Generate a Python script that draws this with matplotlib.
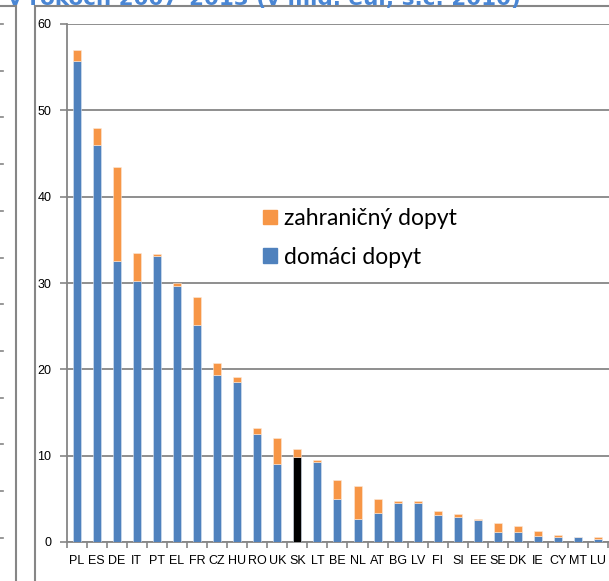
import matplotlib
matplotlib.use("Agg")
import matplotlib.pyplot as plt
from matplotlib.lines import Line2D
from matplotlib.patches import Patch
import numpy as np

# countries, sorted by total contribution
countries = ['PL', 'ES', 'DE', 'IT', 'PT', 'EL', 'FR', 'CZ', 'HU', 'RO', 'UK', 'SK', 'LT', 'BE',
             'NL', 'AT', 'BG', 'LV', 'FI', 'SI', 'EE', 'SE', 'DK', 'IE', 'CY', 'MT', 'LU']
domestic = [55.7, 46.0, 32.6, 30.2, 33.1, 29.7, 25.1, 19.4, 18.5, 12.5, 9.0, 9.85, 9.3, 5.0,
            2.7, 3.4, 4.5, 4.5, 3.1, 2.9, 2.55, 1.15, 1.15, 0.75, 0.6, 0.55, 0.3]
foreign = [1.3, 2.0, 10.8, 3.25, 0.3, 0.3, 3.25, 1.3, 0.6, 0.7, 3.1, 0.9, 0.2, 2.2,
           3.8, 1.6, 0.3, 0.2, 0.5, 0.3, 0.12, 1.05, 0.65, 0.55, 0.2, 0.05, 0.25]
yticks = [0, 10, 20, 30, 40, 50, 60]
title = "v rokoch 2007\u20132013 (v mld. eur, s.c. 2010)"

BLUE = '#4F81BD'
ORANGE = '#F79646'
GRAY = '#868686'

W, H = 609, 581
fig = plt.figure(figsize=(W / 100, H / 100), dpi=100)
ax = fig.add_axes([66.5 / W, 1 - 542 / H, 1 - 66.5 / W, (542 - 24) / H])

x = np.arange(len(countries))
dom_colors = ['black' if c == 'SK' else BLUE for c in countries]
ax.bar(x, domestic, width=0.4, color=dom_colors, edgecolor='#dbe5f1', linewidth=0.4, zorder=3)
ax.bar(x, foreign, width=0.4, bottom=domestic, color=ORANGE, edgecolor='#fde9d9',
       linewidth=0.4, zorder=3)

ax.set_ylim(0, 60)
ax.set_xlim(-0.5, 26.53)
ax.set_yticks(yticks)
ax.tick_params(axis='y', length=5, width=1.2, color=GRAY, pad=6, labelsize=9)
for lab in ax.get_yticklabels():
    lab.set_family('Liberation Sans')

# boundary tick marks, labels centred on the bars
ax.set_xticks(np.arange(-0.5, 26.6, 1.0))
ax.set_xticklabels([])
ax.tick_params(axis='x', which='major', length=4, width=1.2, color=GRAY)
ax.set_xticks(x, minor=True)
ax.set_xticklabels(countries, minor=True, family='Liberation Sans', fontsize=9)
ax.tick_params(axis='x', which='minor', length=0, pad=9)

ax.yaxis.grid(True, color=GRAY, linewidth=1.3, zorder=0)
ax.set_axisbelow(True)
for s in ['top', 'right']:
    ax.spines[s].set_visible(False)
for s in ['left', 'bottom']:
    ax.spines[s].set_color(GRAY)
    ax.spines[s].set_linewidth(1.3)

handles = [Patch(color=ORANGE), Patch(color=BLUE)]
ax.legend(handles, ['zahrani\u010dn\u00fd dopyt', 'dom\u00e1ci dopyt'], loc='upper left',
          bbox_to_anchor=(0.325, 0.685), frameon=False,
          prop={'family': 'Lato', 'size': 16.5}, handlelength=0.58, handleheight=0.58,
          handletextpad=0.3, labelspacing=0.78)

# cropped title and frames of the surrounding page
fig.text(8 / W, 1 - 5 / H, title, color='#4A86D4', fontsize=15.5, fontweight='bold',
         va='baseline', ha='left')
fy = 1 - 5.5 / H
fig.add_artist(Line2D([35 / W, 35 / W], [0, fy], color=GRAY, lw=1.5))
fig.add_artist(Line2D([35 / W, 1], [fy, fy], color=GRAY, lw=1.5))
fig.add_artist(Line2D([15.5 / W, 15.5 / W], [0, fy], color=GRAY, lw=1.5))
fig.add_artist(Line2D([0, 15.5 / W], [fy, fy], color=GRAY, lw=1.5))
for k in range(12):
    yy = 1 - (24 + 46.7 * k) / H
    fig.add_artist(Line2D([0, 3 / W], [yy, yy], color=GRAY, lw=1.2))

fig.savefig('out.png', dpi=100)
